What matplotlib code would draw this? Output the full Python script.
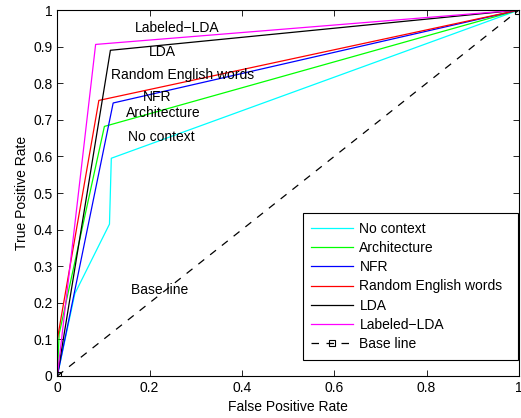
import matplotlib.pyplot as plt

plt.rcParams['font.family'] = ['Liberation Sans', 'DejaVu Sans']
plt.rcParams['font.size'] = 10

# ROC points for each context model (false positive rate, true positive rate)
names = ["No context", "Architecture", "NFR", "Random English words", "LDA", "Labeled\u2212LDA"]
colors = ["#00ffff", "#00ff00", "#0000ff", "#ff0000", "#000000", "#ff00ff"]
fpr = [
    [0, 0.038, 0.113, 0.117, 1],
    [0, 0.004, 0.102, 1],
    [0, 0.121, 1],
    [0, 0.0, 0.090, 1],
    [0, 0.115, 1],
    [0, 0.083, 1],
]
tpr = [
    [0, 0.225, 0.415, 0.595, 1],
    [0, 0.115, 0.682, 1],
    [0, 0.746, 1],
    [0, 0.1, 0.753, 1],
    [0, 0.890, 1],
    [0, 0.906, 1],
]
base_x = [0, 1]
base_y = [0, 1]

# curve labels placed next to each curve
label_pos = [
    (0.153, 0.652), (0.149, 0.720), (0.185, 0.761),
    (0.116, 0.822), (0.198, 0.884), (0.168, 0.950),
]
base_label_pos = (0.16, 0.234)

fig = plt.figure(figsize=(5.21, 4.18), dpi=100)
ax = fig.add_axes([0.110, 0.1005, 0.886, 0.8755])

for x, y, c, n in zip(fpr, tpr, colors, names):
    ax.plot(x, y, color=c, lw=0.9, label=n)
ax.plot(base_x, base_y, color="black", lw=0.9, ls=(0, (6, 6)), marker="s",
        ms=6, mfc="none", mew=0.8, label="Base line")

for (lx, ly), n in zip(label_pos, names):
    ax.text(lx, ly, n, va="center", ha="left")
ax.text(base_label_pos[0], base_label_pos[1], "Base line", va="center", ha="left")

ax.set_xlim(0, 1)
ax.set_ylim(0, 1)
ax.set_xticks([0, 0.2, 0.4, 0.6, 0.8, 1])
ax.set_xticklabels(["0", "0.2", "0.4", "0.6", "0.8", "1"])
ax.set_yticks([i / 10 for i in range(11)])
ax.set_yticklabels(["0"] + ["%.1f" % (i / 10) for i in range(1, 10)] + ["1"])
ax.tick_params(direction="in", top=True, right=True, length=4, width=0.6)
for s in ax.spines.values():
    s.set_linewidth(0.8)

ax.set_xlabel("False Positive Rate", labelpad=4)
ax.set_ylabel("True Positive Rate", labelpad=3)

# legend box spans a fixed width in the lower right corner
leg = ax.legend(loc="lower left", bbox_to_anchor=(0.532, 0.044, 0.465, 0.3),
                mode="expand", borderaxespad=0,
                fancybox=False, framealpha=1, edgecolor="black", handlelength=3.0,
                handletextpad=0.45, labelspacing=0.38, borderpad=0.62, markerscale=0.8)
leg.get_frame().set_linewidth(0.8)

fig.savefig("out.png", dpi=100)
